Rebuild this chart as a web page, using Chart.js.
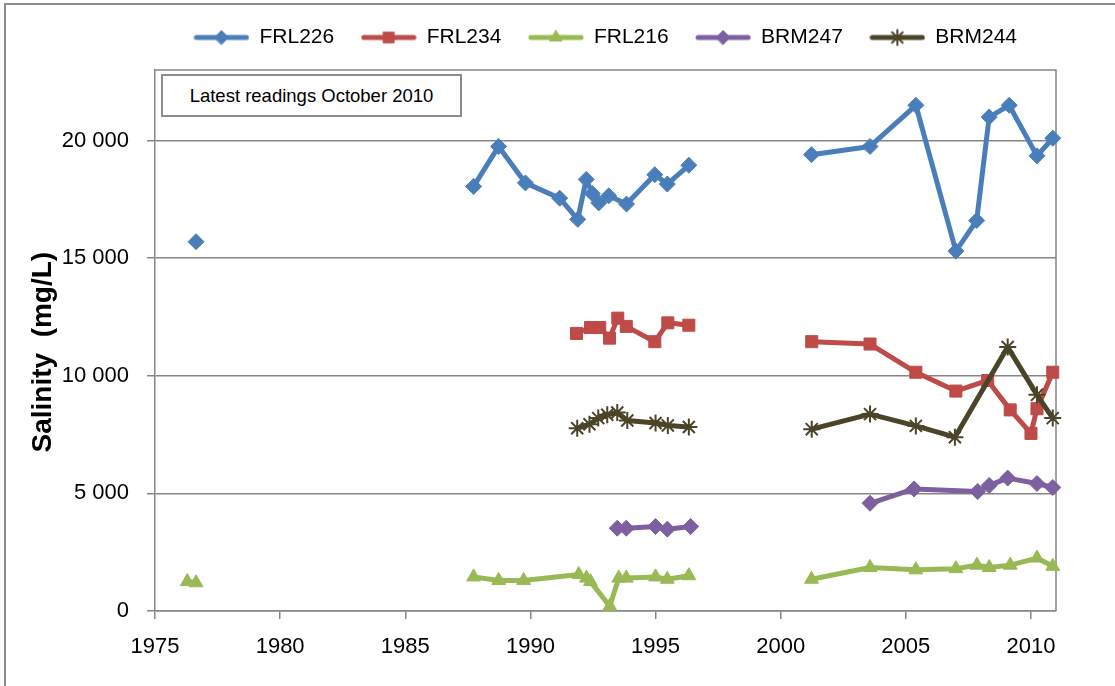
<!DOCTYPE html>
<html>
<head>
<meta charset="utf-8">
<script src="https://cdn.jsdelivr.net/npm/chart.js@4.4.1/dist/chart.umd.min.js"></script>
<style>
  html, body { margin: 0; padding: 0; background: #fff; }
  #wrap { position: relative; width: 1115px; height: 686px; overflow: hidden; }
  #frame { position: absolute; left: 4px; top: 3px; width: 1300px; height: 900px; border: 2px solid #8c8c8c; }
  #salinity { position: absolute; left: 0; top: 0; }
  #note { position: absolute; left: 161px; top: 74px; width: 297px; height: 39px; border: 2px solid #8c8c8c;
          background: #fff; font: 18.5px "Liberation Sans", Arial, sans-serif; color: #000;
          text-align: center; line-height: 39px; }
</style>
</head>
<body>
<div id="wrap">
  <div id="frame"></div>
  <canvas id="salinity" width="1115" height="686"></canvas>
  <div id="note">Latest readings October 2010</div>
</div>
<script>
// sampling dates (decimal years) and salinity readings (mg/L)
var years226 = [1976.64, 1987.73, 1988.73, 1989.8, 1991.17, 1991.89, 1992.23, 1992.47, 1992.73, 1993.13, 1993.84,
                1994.97, 1995.47, 1996.33, 2001.23, 2003.57, 2005.4, 2007.0, 2007.83, 2008.33, 2009.13, 2010.24, 2010.87];
var frl226 = [15700, 18050, 19750, 18200, 17550, 16650, 18350, 17750, 17350, 17650, 17300,
              18550, 18150, 18950, 19400, 19750, 21500, 15300, 16600, 21000, 21500, 19350, 20100];

var years234 = [1991.84, 1992.4, 1992.77, 1993.16, 1993.49, 1993.83, 1994.97, 1995.49, 1996.33,
                2001.24, 2003.57, 2005.4, 2007.0, 2008.27, 2009.17, 2010.0, 2010.24, 2010.87];
var frl234 = [11800, 12050, 12050, 11600, 12450, 12100, 11450, 12250, 12150,
              11450, 11350, 10150, 9350, 9800, 8550, 7550, 8600, 10150];

var years216 = [1976.29, 1976.64, 1987.73, 1988.73, 1989.73, 1991.93, 1992.24, 1992.4, 1993.17, 1993.53, 1993.83,
                1995.0, 1995.47, 1996.33, 2001.23, 2003.57, 2005.4, 2007.0, 2007.84, 2008.33, 2009.17, 2010.24, 2010.87];
var frl216 = [1250, 1200, 1450, 1300, 1300, 1550, 1400, 1250, 200, 1400, 1400,
              1450, 1350, 1500, 1350, 1850, 1750, 1800, 1950, 1850, 1950, 2250, 1900];

var years247 = [1993.47, 1993.83, 1995.0, 1995.47, 1996.4, 2003.57, 2005.33, 2007.87, 2008.33, 2009.07, 2010.24, 2010.87];
var brm247 = [3520, 3520, 3590, 3480, 3590, 4580, 5190, 5080, 5340, 5650, 5420, 5250];

var years244 = [1991.87, 1992.36, 1992.71, 1993.07, 1993.47, 1993.87, 1995.0, 1995.49, 1996.33,
                2001.24, 2003.57, 2005.4, 2006.96, 2009.07, 2010.24, 2010.87];
var brm244 = [7770, 7940, 8200, 8340, 8440, 8100, 7990, 7890, 7820,
              7730, 8370, 7870, 7390, 11220, 9190, 8200];

var yearTicks = [1975, 1980, 1985, 1990, 1995, 2000, 2005, 2010];
var yearRange = [1975, 2011];
var salinityTicks = [0, 5000, 10000, 15000, 20000];
var salinityRange = [0, 23000];

var FONT = '"Liberation Sans", Arial, sans-serif';
Chart.defaults.font.family = FONT;
Chart.defaults.color = '#000';

function pts(xs, ys) {
	return xs.map(function(x, i) { return {x: x, y: ys[i]}; });
}

// no line across the long breaks in sampling
function gap(ctx) {
	return ctx.p1.parsed.x - ctx.p0.parsed.x > 3 ? 'rgba(0,0,0,0)' : undefined;
}

function thousands(v) {
	return String(v).replace(/\B(?=(\d{3})+(?!\d))/g, ' ');
}

function setTicks(list) {
	return function(scale) {
		scale.ticks = list.map(function(v) { return {value: v}; });
	};
}

function legendIcon(color, style, r, bw) {
	var c = document.createElement('canvas');
	c.width = 56; c.height = 20;
	var g = c.getContext('2d');
	g.strokeStyle = color;
	g.lineWidth = 5;
	g.lineCap = 'round';
	g.beginPath(); g.moveTo(3, 10); g.lineTo(53, 10); g.stroke();
	g.fillStyle = color;
	g.lineWidth = bw;
	Chart.helpers.drawPoint(g, {pointStyle: style, radius: r, rotation: 0, borderWidth: bw}, 28, 10);
	return c;
}

function series(label, xs, ys, color, style, r, bw, order) {
	return {
		label: label,
		data: pts(xs, ys),
		borderColor: color,
		backgroundColor: color,
		borderWidth: 5,
		borderJoinStyle: 'round',
		borderCapStyle: 'round',
		pointStyle: style,
		pointRadius: r,
		pointBorderWidth: bw,
		pointBorderColor: color,
		pointBackgroundColor: color,
		tension: 0,
		clip: false,
		order: order,
		segment: {borderColor: gap},
		icon: legendIcon(color, style, r - 1, bw)
	};
}

var datasets = [
	series('FRL226', years226, frl226, '#4a7ebb', 'rectRot', 8, 1, 5),
	series('FRL234', years234, frl234, '#be4b48', 'rect', 8.5, 1, 4),
	series('FRL216', years216, frl216, '#98b954', 'triangle', 8, 1, 3),
	series('BRM247', years247, brm247, '#7d60a0', 'rectRot', 8, 1, 2),
	series('BRM244', years244, brm244, '#4a4428', 'star', 8.5, 2, 1)
];

var legendFix = {
	id: 'legendFix',
	beforeInit: function(chart) {
		var fit = chart.legend.fit;
		chart.legend.fit = function() {
			fit.call(this);
			this.height = 70;
		};
	}
};

var plotFrame = {
	id: 'plotFrame',
	beforeDatasetsDraw: function(chart) {
		var a = chart.chartArea, ctx = chart.ctx;
		ctx.save();
		ctx.strokeStyle = '#868686';
		ctx.lineWidth = 1.5;
		ctx.beginPath();
		ctx.moveTo(a.left, a.top);
		ctx.lineTo(a.right, a.top);
		ctx.lineTo(a.right, a.bottom);
		ctx.stroke();
		ctx.restore();
	}
};

var ctx = document.getElementById('salinity').getContext('2d');
var salinityChart = new Chart(ctx, {
	type: 'line',
	data: {datasets: datasets},
	plugins: [legendFix, plotFrame],
	options: {
		responsive: false,
		animation: false,
		layout: {padding: {left: 0, right: 59, top: 0, bottom: 0}},
		plugins: {
			tooltip: {enabled: false},
			legend: {
				position: 'top',
				fullSize: false,
				labels: {
					usePointStyle: true,
					pointStyleWidth: 55,
					padding: 27,
					color: '#000',
					font: {size: 21},
					generateLabels: function(chart) {
						return chart.data.datasets.map(function(d, i) {
							return {text: d.label, pointStyle: d.icon, fillStyle: d.borderColor,
							        strokeStyle: d.borderColor, lineWidth: 0, datasetIndex: i, hidden: false};
						});
					}
				}
			}
		},
		scales: {
			x: {
				type: 'linear',
				min: yearRange[0],
				max: yearRange[1],
				afterBuildTicks: setTicks(yearTicks),
				afterFit: function(s) { s.height = 75; },
				ticks: {autoSkip: false, maxRotation: 0, padding: 15, font: {size: 22}, color: '#000',
				        callback: function(v) { return String(v); }},
				grid: {drawOnChartArea: false, drawTicks: true, tickLength: 8, color: '#868686', lineWidth: 1.5},
				border: {color: '#868686', width: 1.5}
			},
			y: {
				min: salinityRange[0],
				max: salinityRange[1],
				afterBuildTicks: setTicks(salinityTicks),
				afterFit: function(s) { s.width = 155; },
				ticks: {autoSkip: false, padding: 18, font: {size: 22}, color: '#000',
				        callback: function(v) { return thousands(v); }},
				grid: {color: '#868686', lineWidth: 1.5, tickLength: 8},
				border: {color: '#868686', width: 1.5},
				title: {display: true, text: 'Salinity  (mg/L)\u00a0\u00a0\u00a0', color: '#000',
				        font: {size: 28, weight: 'bold'}, padding: {top: 26, bottom: 0}}
			}
		}
	}
});
</script>
</body>
</html>
